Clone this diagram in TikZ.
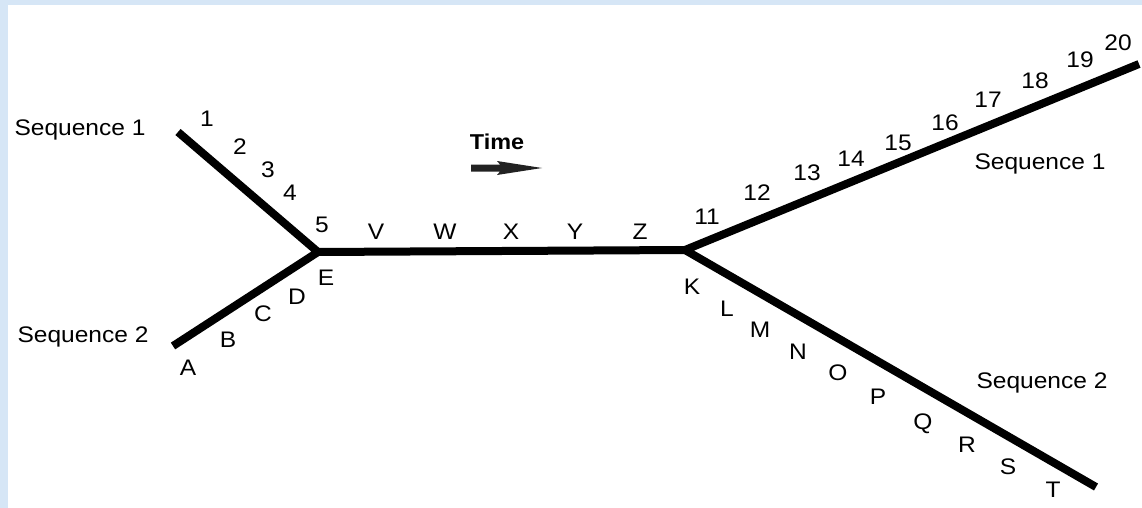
\documentclass[tikz,border=0pt]{standalone}
\usepackage{fontspec}
\usepackage{graphicx}
\setmainfont{Liberation Sans}
\definecolor{bgblue}{RGB}{214,230,246}
\definecolor{arrowgray}{RGB}{34,34,34}
\newcommand\wide[1]{\scalebox{1.09}[1]{#1}}
\begin{document}
\begin{tikzpicture}[x=1pt,y=-1pt,
  branch/.style={line width=8pt, line cap=butt, line join=miter},
  lbl/.style={inner sep=0pt, font=\fontsize{22.5}{25}\selectfont},
  seqlbl/.style={inner sep=0pt, font=\fontsize{22.5}{25}\selectfont}]
\fill[bgblue] (0,0) rectangle (1142,508);
\fill[white] (8,5) rectangle (1142,508);
\useasboundingbox (0,0) rectangle (1142,508);
% junctions and ends
\coordinate (s1start) at (178,132);
\coordinate (s2start) at (173,346);
\coordinate (j1) at (318,252);
\coordinate (j2) at (685,250);
\coordinate (s1end) at (1139,64);
\coordinate (s2end) at (1096,487);
\draw[branch] (s1start) -- (j1) -- (s2start);
\draw[branch] (j1) -- (j2);
\draw[branch] (s1end) -- (j2) -- (s2end);
% time arrow
\node[lbl, font=\fontsize{21.5}{24}\selectfont\bfseries] (time) at (497,142) {\wide{Time}};
\fill[arrowgray] (471,164.5) -- (500,164.5) -- (497,161) -- (542,168) -- (497,175) -- (500,171.5) -- (471,171.5) -- cycle;
% sequence labels
\node[seqlbl] (seq1l) at (80,130) {\wide{Sequence 1}};
\node[seqlbl] (seq2l) at (83,337) {\wide{Sequence 2}};
\node[seqlbl] (seq1r) at (1040,164) {\wide{Sequence 1}};
\node[seqlbl] (seq2r) at (1042,383) {\wide{Sequence 2}};
% upper left numbers
\node[lbl] (n1) at (207,119) {\wide{1}};
\node[lbl] (n2) at (240,147) {\wide{2}};
\node[lbl] (n3) at (268,170) {\wide{3}};
\node[lbl] (n4) at (290,193) {\wide{4}};
\node[lbl] (n5) at (322,225) {\wide{5}};
% lower left letters
\node[lbl] (lA) at (188,368) {\wide{A}};
\node[lbl] (lB) at (228,340) {\wide{B}};
\node[lbl] (lC) at (263,314) {\wide{C}};
\node[lbl] (lD) at (297,297) {\wide{D}};
\node[lbl] (lE) at (326,278) {\wide{E}};
% middle letters
\node[lbl] (lV) at (376,232) {\wide{V}};
\node[lbl] (lW) at (445,232) {\wide{W}};
\node[lbl] (lX) at (511,232) {\wide{X}};
\node[lbl] (lY) at (575,232) {\wide{Y}};
\node[lbl] (lZ) at (640,232) {\wide{Z}};
% upper right numbers
\node[lbl] (n11) at (707,217) {\wide{11}};
\node[lbl] (n12) at (757,193) {\wide{12}};
\node[lbl] (n13) at (807,173) {\wide{13}};
\node[lbl] (n14) at (851,159) {\wide{14}};
\node[lbl] (n15) at (898,143) {\wide{15}};
\node[lbl] (n16) at (945,123) {\wide{16}};
\node[lbl] (n17) at (988,100) {\wide{17}};
\node[lbl] (n18) at (1035,81) {\wide{18}};
\node[lbl] (n19) at (1080,60) {\wide{19}};
\node[lbl] (n20) at (1118,43) {\wide{20}};
% lower right letters
\node[lbl] (lK) at (692,287) {\wide{K}};
\node[lbl] (lL) at (727,309) {\wide{L}};
\node[lbl] (lM) at (760,330) {\wide{M}};
\node[lbl] (lN) at (798,352) {\wide{N}};
\node[lbl] (lO) at (838,373) {\wide{O}};
\node[lbl] (lP) at (878,397) {\wide{P}};
\node[lbl] (lQ) at (923,424) {\wide{Q}};
\node[lbl] (lR) at (967,445) {\wide{R}};
\node[lbl] (lS) at (1008,467) {\wide{S}};
\node[lbl] (lT) at (1053,490) {\wide{T}};
\end{tikzpicture}
\end{document}
